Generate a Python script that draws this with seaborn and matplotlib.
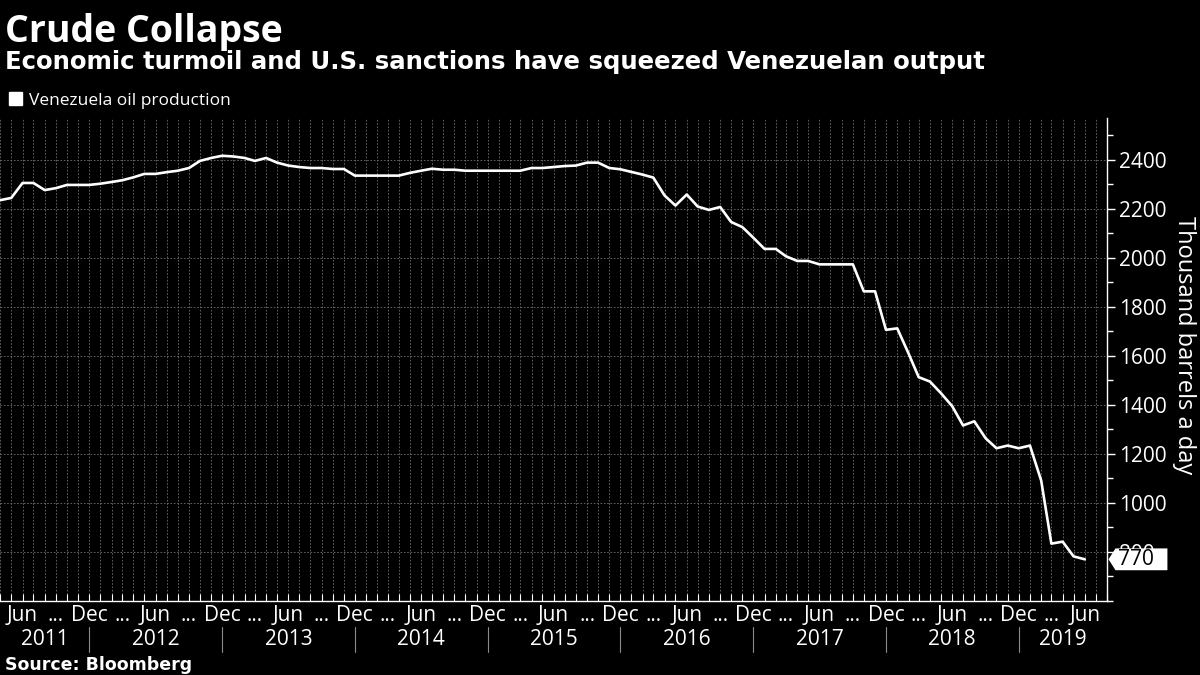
import numpy as np
import pandas as pd
import matplotlib
matplotlib.use("Agg")
import matplotlib.pyplot as plt
import matplotlib.dates as mdates
import matplotlib.transforms as mtransforms
from matplotlib.ticker import MultipleLocator
from matplotlib.path import Path
from matplotlib.patches import Patch
import seaborn as sns

# ---------------- data ----------------
start_month = "2011-04-01"
production = [2235, 2244, 2305, 2305, 2276, 2284, 2297, 2297, 2297, 2302,
              2309, 2316, 2328, 2342, 2342, 2349, 2355, 2366, 2395, 2407,
              2416, 2413, 2407, 2395, 2407, 2388, 2376, 2370, 2366, 2366,
              2362, 2362, 2335, 2335, 2335, 2335, 2335, 2346, 2355, 2363,
              2359, 2359, 2355, 2355, 2355, 2355, 2355, 2355, 2366, 2366,
              2370, 2374, 2376, 2388, 2388, 2366, 2361, 2350, 2339, 2327,
              2254, 2213, 2258, 2209, 2195, 2207, 2146, 2125, 2082, 2036,
              2036, 2006, 1987, 1987, 1973, 1973, 1973, 1973, 1863, 1863,
              1706, 1712, 1610, 1513, 1495, 1448, 1395, 1316, 1333, 1264,
              1223, 1234, 1223, 1234, 1091, 834, 842, 782, 770]
series_name = "Venezuela oil production"
y_ticks = [800, 1000, 1200, 1400, 1600, 1800, 2000, 2200, 2400]
quarter_month_labels = {3: "...", 6: "Jun", 9: "...", 12: "Dec"}
years = [2011, 2012, 2013, 2014, 2015, 2016, 2017, 2018, 2019]

title = "Crude Collapse"
subtitle = "Economic turmoil and U.S. sanctions have squeezed Venezuelan output"
y_label = "Thousand barrels a day"
source = "Source: Bloomberg"

dates = pd.date_range(start_month, periods=len(production), freq="MS")
df = pd.DataFrame({"date": dates, "production": production})

# ---------------- style ----------------
sns.set_theme(style="dark")
plt.rcParams["font.family"] = ["Open Sans", "DejaVu Sans"]

W, H = 1200, 675
fig = plt.figure(figsize=(12, 6.75), dpi=100, facecolor="black")
ax = fig.add_axes([0.0, 1 - 601 / H, 1107 / W, (601 - 118) / H], facecolor="black")

sns.lineplot(data=df, x="date", y="production", ax=ax, color="white",
             linewidth=1.9, legend=False)

xmin = pd.Timestamp("2011-03-31")
xmax = pd.Timestamp("2019-08-01")
ax.set_xlim(xmin, xmax)
ax.set_ylim(600, 2570)

for s in ["left", "top"]:
    ax.spines[s].set_visible(False)
for s in ["right", "bottom"]:
    ax.spines[s].set_visible(True)
    ax.spines[s].set_color("white")
    ax.spines[s].set_linewidth(1.0)

# y axis on right
ax.yaxis.tick_right()
ax.set_yticks(y_ticks)
ax.yaxis.set_minor_locator(MultipleLocator(100))
ax.tick_params(axis="y", which="major", right=True, left=False, direction="out",
               length=6, width=1, color="white", labelcolor="white",
               labelsize=15, pad=3)
ax.tick_params(axis="y", which="minor", right=True, left=False, direction="out",
               length=4, width=1, color="white")
ax.set_ylabel(y_label, rotation=270, fontsize=17, color="white")
ax.yaxis.set_label_position("right")
ax.yaxis.label.set_verticalalignment("center")
ax.yaxis.label.set_horizontalalignment("center")
ax.yaxis.label.set_rotation_mode("anchor")
ax.yaxis.set_label_coords(1184 / 1107, (601 - 345) / (601 - 118))

# x axis
quarter_dates = [d for d in dates if d.month in quarter_month_labels and d >= pd.Timestamp("2011-06-01")]
ax.set_xticks(quarter_dates, labels=[quarter_month_labels[d.month] for d in quarter_dates])
ax.xaxis.set_minor_locator(mdates.MonthLocator())
ax.tick_params(axis="x", which="both", bottom=True, direction="in", length=5,
               width=0.8, color="white")
ax.tick_params(axis="x", which="major", labelcolor="white", labelsize=15, pad=3)
ax.set_xlabel("")

# grid
grid_kw = dict(color="#6f6f6f", linestyle=(0, (2, 2)), linewidth=0.6)
ax.grid(True, which="major", axis="y", **grid_kw)
ax.grid(True, which="both", axis="x", **grid_kw)
ax.set_axisbelow(True)

# year labels and separators
trans = mtransforms.blended_transform_factory(ax.transData, fig.transFigure)
dec_dates = [pd.Timestamp(f"{y}-12-01") for y in years[:-1]]
bounds = [xmin] + dec_dates + [xmax]
for i, y in enumerate(years):
    a = mdates.date2num(bounds[i])
    b = mdates.date2num(bounds[i + 1])
    ax.text((a + b) / 2, 1 - 645 / H, str(y), transform=trans, ha="center",
            va="baseline", fontsize=15, color="white")
for d in dec_dates:
    xd = mdates.date2num(d)
    ax.plot([xd, xd], [1 - 627 / H, 1 - 652 / H], transform=trans, color="#8a8a8a",
            linewidth=0.8, clip_on=False)

# last value tag
def tag_box(x0, y0, width, height, mutation_size):
    lp = 0.12 * mutation_size
    rp = 0.65 * mutation_size
    vp = 0.02 * mutation_size
    x0 = x0 - lp
    x1 = x0 + lp + width + rp
    y0 = y0 - vp
    y1 = y0 + height + 2 * vp
    head = 0.32 * (y1 - y0)
    verts = [(x0, y0), (x1, y0), (x1, y1), (x0, y1), (x0 - head, (y0 + y1) / 2), (x0, y0), (x0, y0)]
    codes = [Path.MOVETO, Path.LINETO, Path.LINETO, Path.LINETO, Path.LINETO, Path.LINETO, Path.CLOSEPOLY]
    return Path(verts, codes)

last_val = production[-1]
ax.annotate(f"{last_val}", xy=(1.0, last_val), xycoords=ax.get_yaxis_transform(),
            xytext=(11 * 0.72, 0), textcoords="offset points", ha="left", va="center",
            fontsize=15, color="black", zorder=10, annotation_clip=False,
            bbox=dict(boxstyle=tag_box, fc="white", ec="white", lw=0))

# legend
handle = Patch(facecolor="white", edgecolor="white")
ax.legend(handles=[handle], labels=[series_name], loc="center left",
          bbox_to_anchor=(9 / W, 1 - 100.5 / H), bbox_transform=fig.transFigure,
          frameon=False, borderpad=0, borderaxespad=0, handlelength=0.75,
          handleheight=0.75, handletextpad=0.4, fontsize=12.5, labelcolor="white")

# titles
fig.text(5 / W, 1 - 42 / H, title, fontsize=27, fontweight="bold", color="white",
         ha="left", va="baseline")
fig.text(5 / W, 1 - 69 / H, subtitle, fontsize=17.6, fontweight="bold", color="white",
         ha="left", va="baseline", family=["DejaVu Sans"])
fig.text(5 / W, 1 - 670 / H, source, fontsize=12.5, fontweight="bold", color="white",
         ha="left", va="baseline", family=["DejaVu Sans"])

fig.savefig("out.png", dpi=100, facecolor="black")
